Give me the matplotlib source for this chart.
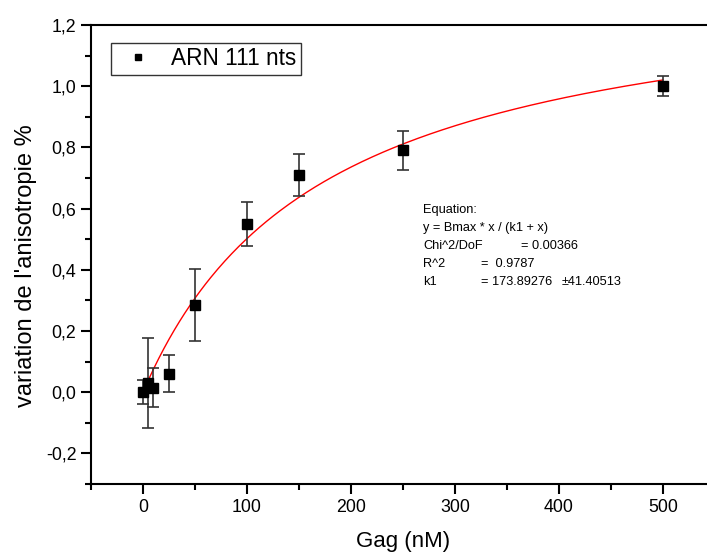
import numpy as np
import matplotlib.pyplot as plt
from matplotlib.lines import Line2D
from matplotlib.ticker import MultipleLocator, FuncFormatter

gag = [0, 5, 10, 25, 50, 100, 150, 250, 500]
aniso = [0.0, 0.03, 0.015, 0.06, 0.286, 0.55, 0.71, 0.79, 1.0]
err = [0.04, 0.146, 0.063, 0.06, 0.118, 0.072, 0.068, 0.065, 0.032]

# fit parameters (hyperbola y = Bmax*x/(k1+x))
bmax = 1.375
k1 = 173.89276

plt.rcParams['font.family'] = ['Liberation Sans', 'DejaVu Sans']

W, H = 707, 554
fig = plt.figure(figsize=(W / 100, H / 100), dpi=100)
ax = fig.add_axes([0.1287, 0.1264, 0.8826, 0.8286])

xfit = np.linspace(0, 500, 300)
ax.plot(xfit, bmax * xfit / (k1 + xfit), color='red', lw=1.0, zorder=2)

ax.errorbar(gag, aniso, yerr=err, fmt='s', color='black', ms=7,
            ecolor='#333333', elinewidth=1.2, capsize=4, capthick=1.2,
            zorder=3)

ax.set_xlim(-50, 550)
ax.set_ylim(-0.3, 1.2)
ax.xaxis.set_major_locator(MultipleLocator(100))
ax.xaxis.set_minor_locator(MultipleLocator(50))
ax.yaxis.set_major_locator(MultipleLocator(0.2))
ax.yaxis.set_minor_locator(MultipleLocator(0.1))
ax.yaxis.set_major_formatter(FuncFormatter(lambda v, p: f"{v:.1f}".replace('.', ',')))

for s in ['left', 'bottom', 'top']:
    ax.spines[s].set_linewidth(1.5)
ax.spines['right'].set_visible(False)
ax.tick_params(which='both', direction='out', width=1.5, labelsize=12.8)
ax.tick_params(which='major', length=7)
ax.tick_params(which='minor', length=4)
ax.tick_params(top=False, which='both')

ax.set_xlabel('Gag (nM)', fontsize=16, labelpad=11)
ax.set_ylabel("variation de l'anisotropie %", fontsize=17, labelpad=6)
ax.yaxis.label.set_y(0.475)

handle = Line2D([], [], ls='none', marker='s', color='black', ms=5)
leg = ax.legend([handle], ['ARN 111 nts'], loc='upper left',
                bbox_to_anchor=(0.032, 0.961), fontsize=16.3,
                frameon=True, fancybox=False, edgecolor='black',
                handlelength=2.0, handletextpad=0.45, borderpad=0.2,
                borderaxespad=0, numpoints=1)
leg.get_frame().set_linewidth(1.0)

# fit report, laid out in columns like the Origin box
report = [
    [(423, "Equation:")],
    [(423, "y = Bmax * x / (k1 + x)")],
    [(423, "Chi^2/DoF"), (521, "= 0.00366")],
    [(423, "R^2"), (481, "=  0.9787")],
    [(423, "k1"), (481, "= 173.89276"), (562, "\u00b141.40513")],
]
for i, row in enumerate(report):
    yc = 210 + 18 * i
    for xp, s in row:
        fig.text(xp / W, 1 - yc / H, s, fontsize=9.2, va='center', ha='left')

fig.savefig('out.png', dpi=100)
